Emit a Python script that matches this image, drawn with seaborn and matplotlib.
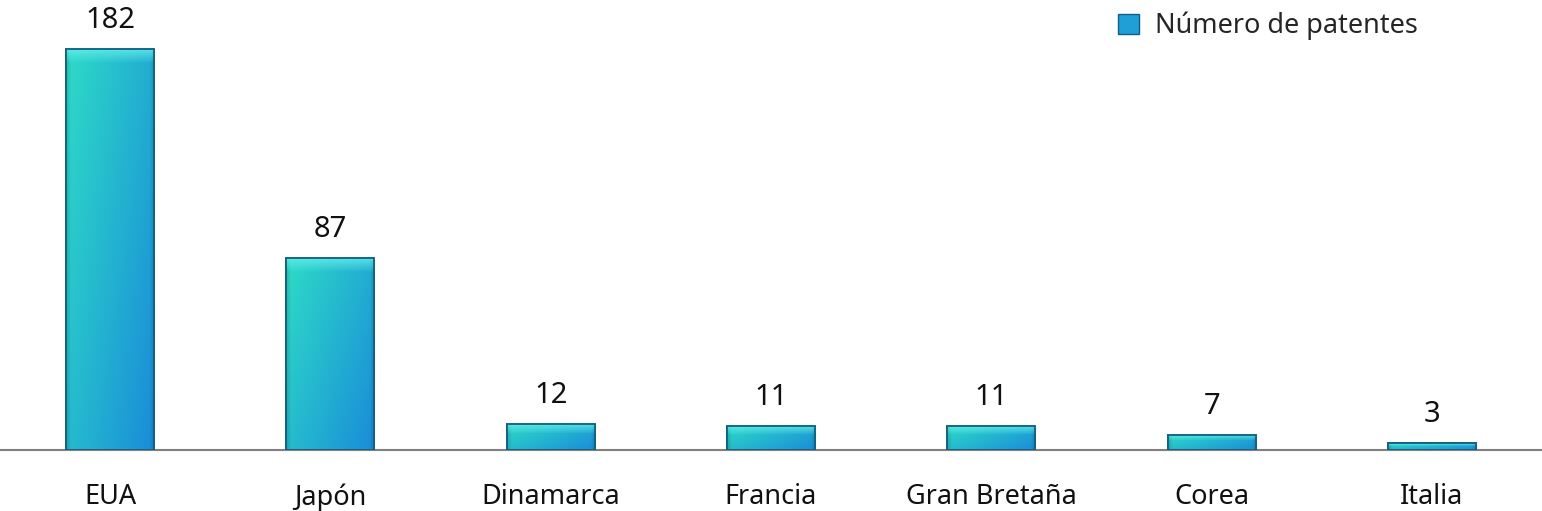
import numpy as np
import pandas as pd
import matplotlib
matplotlib.use("Agg")
import matplotlib.pyplot as plt
import seaborn as sns
from matplotlib.patches import Patch

paises = ["EUA", "Japón", "Dinamarca", "Francia", "Gran Bretaña", "Corea", "Italia"]
patentes = [182, 87, 12, 11, 11, 7, 3]
serie = "Número de patentes"

sns.set_theme(style="white")
plt.rcParams["font.family"] = ["Noto Sans", "DejaVu Sans"]

df = pd.DataFrame({"pais": paises, "n": patentes})

fig = plt.figure(figsize=(15.42, 5.11), dpi=100)
ax = fig.add_axes([0.0, 61 / 511, 1.0, 450 / 511])

sns.barplot(data=df, x="pais", y="n", color="#1e9fd6", width=0.4,
            edgecolor="#0f5f86", linewidth=1.2, ax=ax, zorder=2)

# gradient fill resembling the reference's glossy bars
h, w = 64, 64
xx = np.linspace(0, 1, w)[None, :]
yy = np.linspace(0, 1, h)[:, None]  # 0 = top
green = np.array([0.18, 0.86, 0.78])
blue = np.array([0.10, 0.55, 0.85])
t = np.clip(0.6 * xx + 0.4 * yy, 0, 1)[..., None]
img = green * (1 - t) + blue * t
edge = np.minimum(xx, 1 - xx)
shade = np.clip(0.85 + edge / 0.05 * 0.15, 0.85, 1.0)[..., None]
img = np.clip(img * shade, 0, 1)

# vertical highlight gradient for the top bevel
bev_img = np.zeros((32, 2, 4))
bev_img[..., 0] = 0.40
bev_img[..., 1] = 0.93
bev_img[..., 2] = 0.93
bev_img[..., 3] = np.linspace(0.85, 0.1, 32)[:, None]

for p in ax.patches:
    x0, y0 = p.get_x(), p.get_y()
    wd, ht = p.get_width(), p.get_height()
    im = ax.imshow(img, extent=[x0, x0 + wd, y0, y0 + ht], aspect="auto",
                   zorder=2.5, interpolation="bilinear", origin="upper")
    im.set_clip_path(p)
    bev = min(ht * 0.35, 6.0)
    ax.imshow(bev_img, extent=[x0, x0 + wd, y0 + ht - bev, y0 + ht],
              aspect="auto", zorder=2.6, interpolation="bilinear", origin="upper")
    ax.add_patch(plt.Rectangle((x0, y0), wd, ht, fill=False,
                               edgecolor="#11607f", linewidth=1.3, zorder=2.7))

for i, v in enumerate(patentes):
    ax.annotate(str(v), (i, v), xytext=(0, 10), textcoords="offset points",
                ha="center", va="bottom", fontsize=21, color="#111111")

ax.set_xlim(-0.5, len(paises) - 0.5)
ax.set_ylim(0, 204)
ax.set_xlabel("")
ax.set_ylabel("")
ax.set_yticks([])
ax.tick_params(axis="x", length=0, pad=24, labelsize=19.5, labelcolor="#111111")
for s in ["top", "right", "left"]:
    ax.spines[s].set_visible(False)
ax.spines["bottom"].set_color("#808080")
ax.spines["bottom"].set_linewidth(1.5)

handle = Patch(facecolor="#1e9fd6", edgecolor="#0f5f86", label=serie)
fig.legend(handles=[handle], loc="upper left", bbox_to_anchor=(1094 / 1542, 1.025),
           frameon=False, fontsize=19.5, handlelength=0.75, handleheight=0.75,
           handletextpad=0.6)

fig.savefig("out.png", dpi=100)
